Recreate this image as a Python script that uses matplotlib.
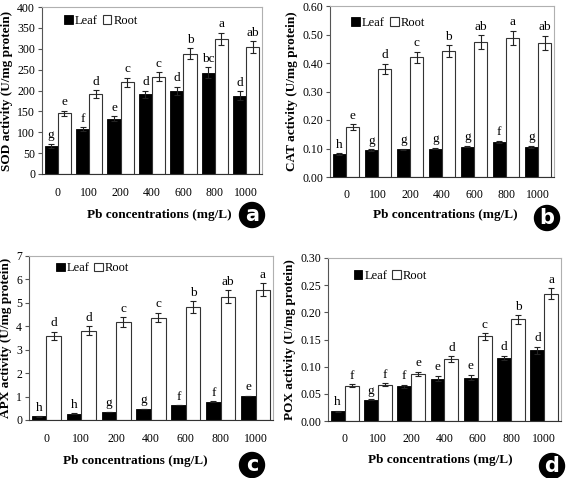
import matplotlib
matplotlib.use("Agg")
import matplotlib.pyplot as plt
import numpy as np

plt.rcParams['font.family'] = ['Liberation Serif', 'DejaVu Serif']

categories = ["0", "100", "200", "400", "600", "800", "1000"]

sod_leaf = [67, 108, 132, 191, 199, 243, 188]
sod_leaf_err = [5, 4, 6, 8, 10, 13, 10]
sod_root = [145, 192, 220, 233, 288, 324, 304]
sod_root_err = [7, 9, 11, 11, 13, 14, 14]
sod_leaf_sig = ["g", "f", "e", "d", "d", "bc", "d"]
sod_root_sig = ["e", "d", "c", "c", "b", "a", "ab"]

cat_leaf = [0.080, 0.095, 0.097, 0.100, 0.107, 0.124, 0.106]
cat_leaf_err = [0.003, 0.003, 0.003, 0.003, 0.003, 0.003, 0.003]
cat_root = [0.175, 0.380, 0.420, 0.442, 0.473, 0.488, 0.470]
cat_root_err = [0.010, 0.018, 0.020, 0.020, 0.025, 0.025, 0.025]
cat_leaf_sig = ["h", "g", "g", "g", "g", "f", "g"]
cat_root_sig = ["e", "d", "c", "b", "ab", "a", "ab"]

apx_leaf = [0.15, 0.27, 0.35, 0.48, 0.63, 0.78, 1.03]
apx_leaf_err = [0.01, 0.01, 0.01, 0.01, 0.01, 0.01, 0.01]
apx_root = [3.60, 3.82, 4.18, 4.37, 4.83, 5.27, 5.57]
apx_root_err = [0.17, 0.18, 0.20, 0.20, 0.25, 0.27, 0.27]
apx_leaf_sig = ["h", "h", "g", "g", "f", "f", "e"]
apx_root_sig = ["d", "d", "c", "c", "b", "ab", "a"]

pox_leaf = [0.018, 0.039, 0.064, 0.078, 0.080, 0.116, 0.130]
pox_leaf_err = [0.001, 0.001, 0.003, 0.005, 0.005, 0.004, 0.007]
pox_root = [0.065, 0.067, 0.087, 0.114, 0.156, 0.187, 0.234]
pox_root_err = [0.003, 0.003, 0.004, 0.005, 0.006, 0.008, 0.010]
pox_leaf_sig = ["h", "g", "f", "e", "e", "d", "d"]
pox_root_sig = ["f", "f", "e", "d", "c", "b", "a"]

W, H = 567, 478
fig = plt.figure(figsize=(W / 100, H / 100), dpi=100)


def px_axes(l, t, r, b):
    return fig.add_axes([l / W, 1 - b / H, (r - l) / W, (b - t) / H])


panels = [
    dict(box=(42, 7, 262, 174), leaf=sod_leaf, le=sod_leaf_err, root=sod_root, re=sod_root_err,
         ls=sod_leaf_sig, rs=sod_root_sig, ylim=(0, 400), yticks=np.arange(0, 401, 50), fmt="{:.0f}",
         ylabel="SOD activity (U/mg protein)", leg=(0.10, 0.915), xl=(159, 215), circ=(252, 215, "a")),
    dict(box=(330, 6, 554, 177), leaf=cat_leaf, le=cat_leaf_err, root=cat_root, re=cat_root_err,
         ls=cat_leaf_sig, rs=cat_root_sig, ylim=(0, 0.6), yticks=np.arange(0, 0.601, 0.1), fmt="{:.2f}",
         ylabel="CAT activity (U/mg protein)", leg=(0.095, 0.90), xl=(445, 215), circ=(547, 218, "b")),
    dict(box=(29, 256, 273, 420), leaf=apx_leaf, le=apx_leaf_err, root=apx_root, re=apx_root_err,
         ls=apx_leaf_sig, rs=apx_root_sig, ylim=(0, 7), yticks=np.arange(0, 8, 1), fmt="{:.0f}",
         ylabel="APX activity (U/mg protein)", leg=(0.11, 0.925), xl=(135, 461), circ=(252, 465, "c")),
    dict(box=(328, 258, 561, 421), leaf=pox_leaf, le=pox_leaf_err, root=pox_root, re=pox_root_err,
         ls=pox_leaf_sig, rs=pox_root_sig, ylim=(0, 0.3), yticks=np.arange(0, 0.301, 0.05), fmt="{:.2f}",
         ylabel="POX activity (U/mg protein)", leg=(0.11, 0.89), xl=(440, 460), circ=(552, 466, "d")),
]

x = np.arange(len(categories))
bw = 0.42
for p in panels:
    ax = px_axes(*p["box"])
    ax.bar(x - bw / 2, p["leaf"], bw, color="black", edgecolor="black", linewidth=0.6,
           yerr=p["le"], ecolor="#222222", capsize=2.2, error_kw=dict(elinewidth=0.8, capthick=0.8),
           label="Leaf", zorder=2)
    ax.bar(x + bw / 2, p["root"], bw, color="white", edgecolor="#333333", linewidth=0.8,
           yerr=p["re"], ecolor="#222222", capsize=2.2, error_kw=dict(elinewidth=0.8, capthick=0.8),
           label="Root", zorder=2)
    span = p["ylim"][1] - p["ylim"][0]
    for i in range(len(categories)):
        ax.text(x[i] - bw / 2, p["leaf"][i] + p["le"][i] + span * 0.015, p["ls"][i],
                ha="center", va="bottom", fontsize=9.5)
        ax.text(x[i] + bw / 2, p["root"][i] + p["re"][i] + span * 0.015, p["rs"][i],
                ha="center", va="bottom", fontsize=9.5)
    ax.set_xlim(-0.5, len(categories) - 0.5)
    ax.set_ylim(*p["ylim"])
    ax.set_yticks(p["yticks"])
    ax.set_yticklabels([p["fmt"].format(v) for v in p["yticks"]], fontsize=8.5)
    ax.set_xticks(x)
    ax.set_xticklabels(categories, fontsize=8.5)
    ax.tick_params(axis="x", length=0, pad=9)
    ax.tick_params(axis="y", length=3, width=0.8, pad=2, color="#555555")
    for s in ["top", "right"]:
        ax.spines[s].set_color("#b0b0b0")
        ax.spines[s].set_linewidth(0.8)
    ax.spines["left"].set_color("#555555")
    ax.spines["bottom"].set_color("#333333")
    ax.set_ylabel(p["ylabel"], fontsize=9.5, fontweight="bold", labelpad=3)
    ax.legend(loc="center left", bbox_to_anchor=p["leg"], ncol=2, frameon=False,
              fontsize=9, handlelength=0.7, handleheight=0.7, handletextpad=0.15,
              columnspacing=0.4, borderpad=0, borderaxespad=0)
    fig.text(p["xl"][0] / W, 1 - p["xl"][1] / H, "Pb concentrations (mg/L)",
             ha="center", va="center", fontsize=9.5, fontweight="bold")
    cx, cy, lab = p["circ"]
    fig.text(cx / W, 1 - cy / H, lab, ha="center", va="center", color="white",
             fontsize=15, fontweight="bold", family="DejaVu Sans",
             bbox=dict(boxstyle="circle,pad=0.12", fc="black", ec="black"))

fig.savefig("out.png", dpi=100)
